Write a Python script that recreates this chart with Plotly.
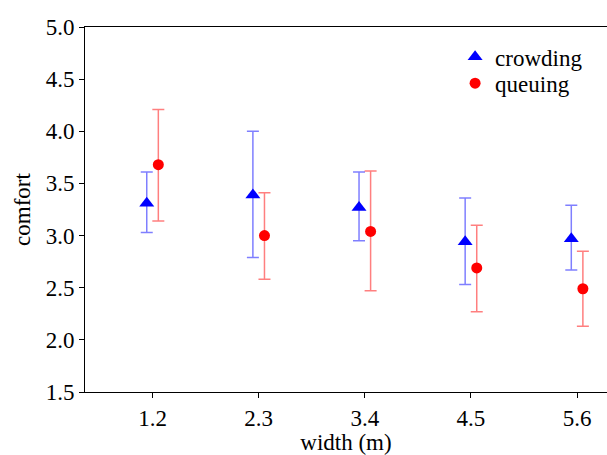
import plotly.graph_objects as go

widths = [1.2, 2.3, 3.4, 4.5, 5.6]
tick_labels = ["1.2", "2.3", "3.4", "4.5", "5.6"]

crowd_mean = [3.31, 3.39, 3.27, 2.94, 2.97]
crowd_up = [0.30, 0.61, 0.34, 0.42, 0.32]
crowd_down = [0.28, 0.60, 0.32, 0.41, 0.30]

queue_mean = [3.68, 3.00, 3.04, 2.69, 2.49]
queue_up = [0.53, 0.41, 0.58, 0.41, 0.36]
queue_down = [0.54, 0.42, 0.57, 0.42, 0.36]

y_ticks = [1.5, 2.0, 2.5, 3.0, 3.5, 4.0, 4.5, 5.0]
y_tick_labels = ["1.5", "2.0", "2.5", "3.0", "3.5", "4.0", "4.5", "5.0"]

offset = 0.06
ff = "Liberation Serif, Times New Roman, serif"
fnt = dict(family=ff, size=23, color="black")

fig = go.Figure()
fig.add_trace(go.Scatter(
    x=[w - offset for w in widths], y=crowd_mean, mode="markers", name="crowding",
    legend="legend",
    marker=dict(symbol="triangle-up", size=13, color="#0000ff", line=dict(width=0)),
    error_y=dict(type="data", symmetric=False, array=crowd_up, arrayminus=crowd_down,
                 color="rgba(0,0,255,0.5)", thickness=1.5, width=6),
))
fig.add_trace(go.Scatter(
    x=[w + offset for w in widths], y=queue_mean, mode="markers", name="queuing",
    legend="legend2",
    marker=dict(symbol="circle", size=11, color="#ff0000", line=dict(width=0)),
    error_y=dict(type="data", symmetric=False, array=queue_up, arrayminus=queue_down,
                 color="rgba(255,0,0,0.5)", thickness=1.5, width=6),
))

legend_common = dict(xanchor="left", yanchor="top", bgcolor="rgba(0,0,0,0)",
                     font=fnt, itemwidth=30)

fig.update_layout(
    width=607, height=455,
    margin=dict(l=85, r=0, t=27, b=63),
    paper_bgcolor="white", plot_bgcolor="white",
    font=fnt,
    showlegend=True,
    legend=dict(x=0.709, y=0.977, **legend_common),
    legend2=dict(x=0.709, y=0.905, **legend_common),
    xaxis=dict(range=[0.5, 5.91], tickvals=widths, ticktext=tick_labels,
               tickfont=fnt,
               showgrid=False, zeroline=False, showline=True, linecolor="black",
               linewidth=1, mirror=True, ticks="outside", ticklen=5, tickcolor="black",
               title=dict(text="width (m)", standoff=0, font=fnt)),
    yaxis=dict(range=[1.5, 5.0], tickvals=y_ticks, ticktext=y_tick_labels,
               tickfont=fnt,
               showgrid=False, zeroline=False, showline=True, linecolor="black",
               linewidth=1, ticks="outside", ticklen=5, tickcolor="black",
               title=dict(text="comfort", standoff=8, font=fnt)),
)

fig.write_html("out.html")
